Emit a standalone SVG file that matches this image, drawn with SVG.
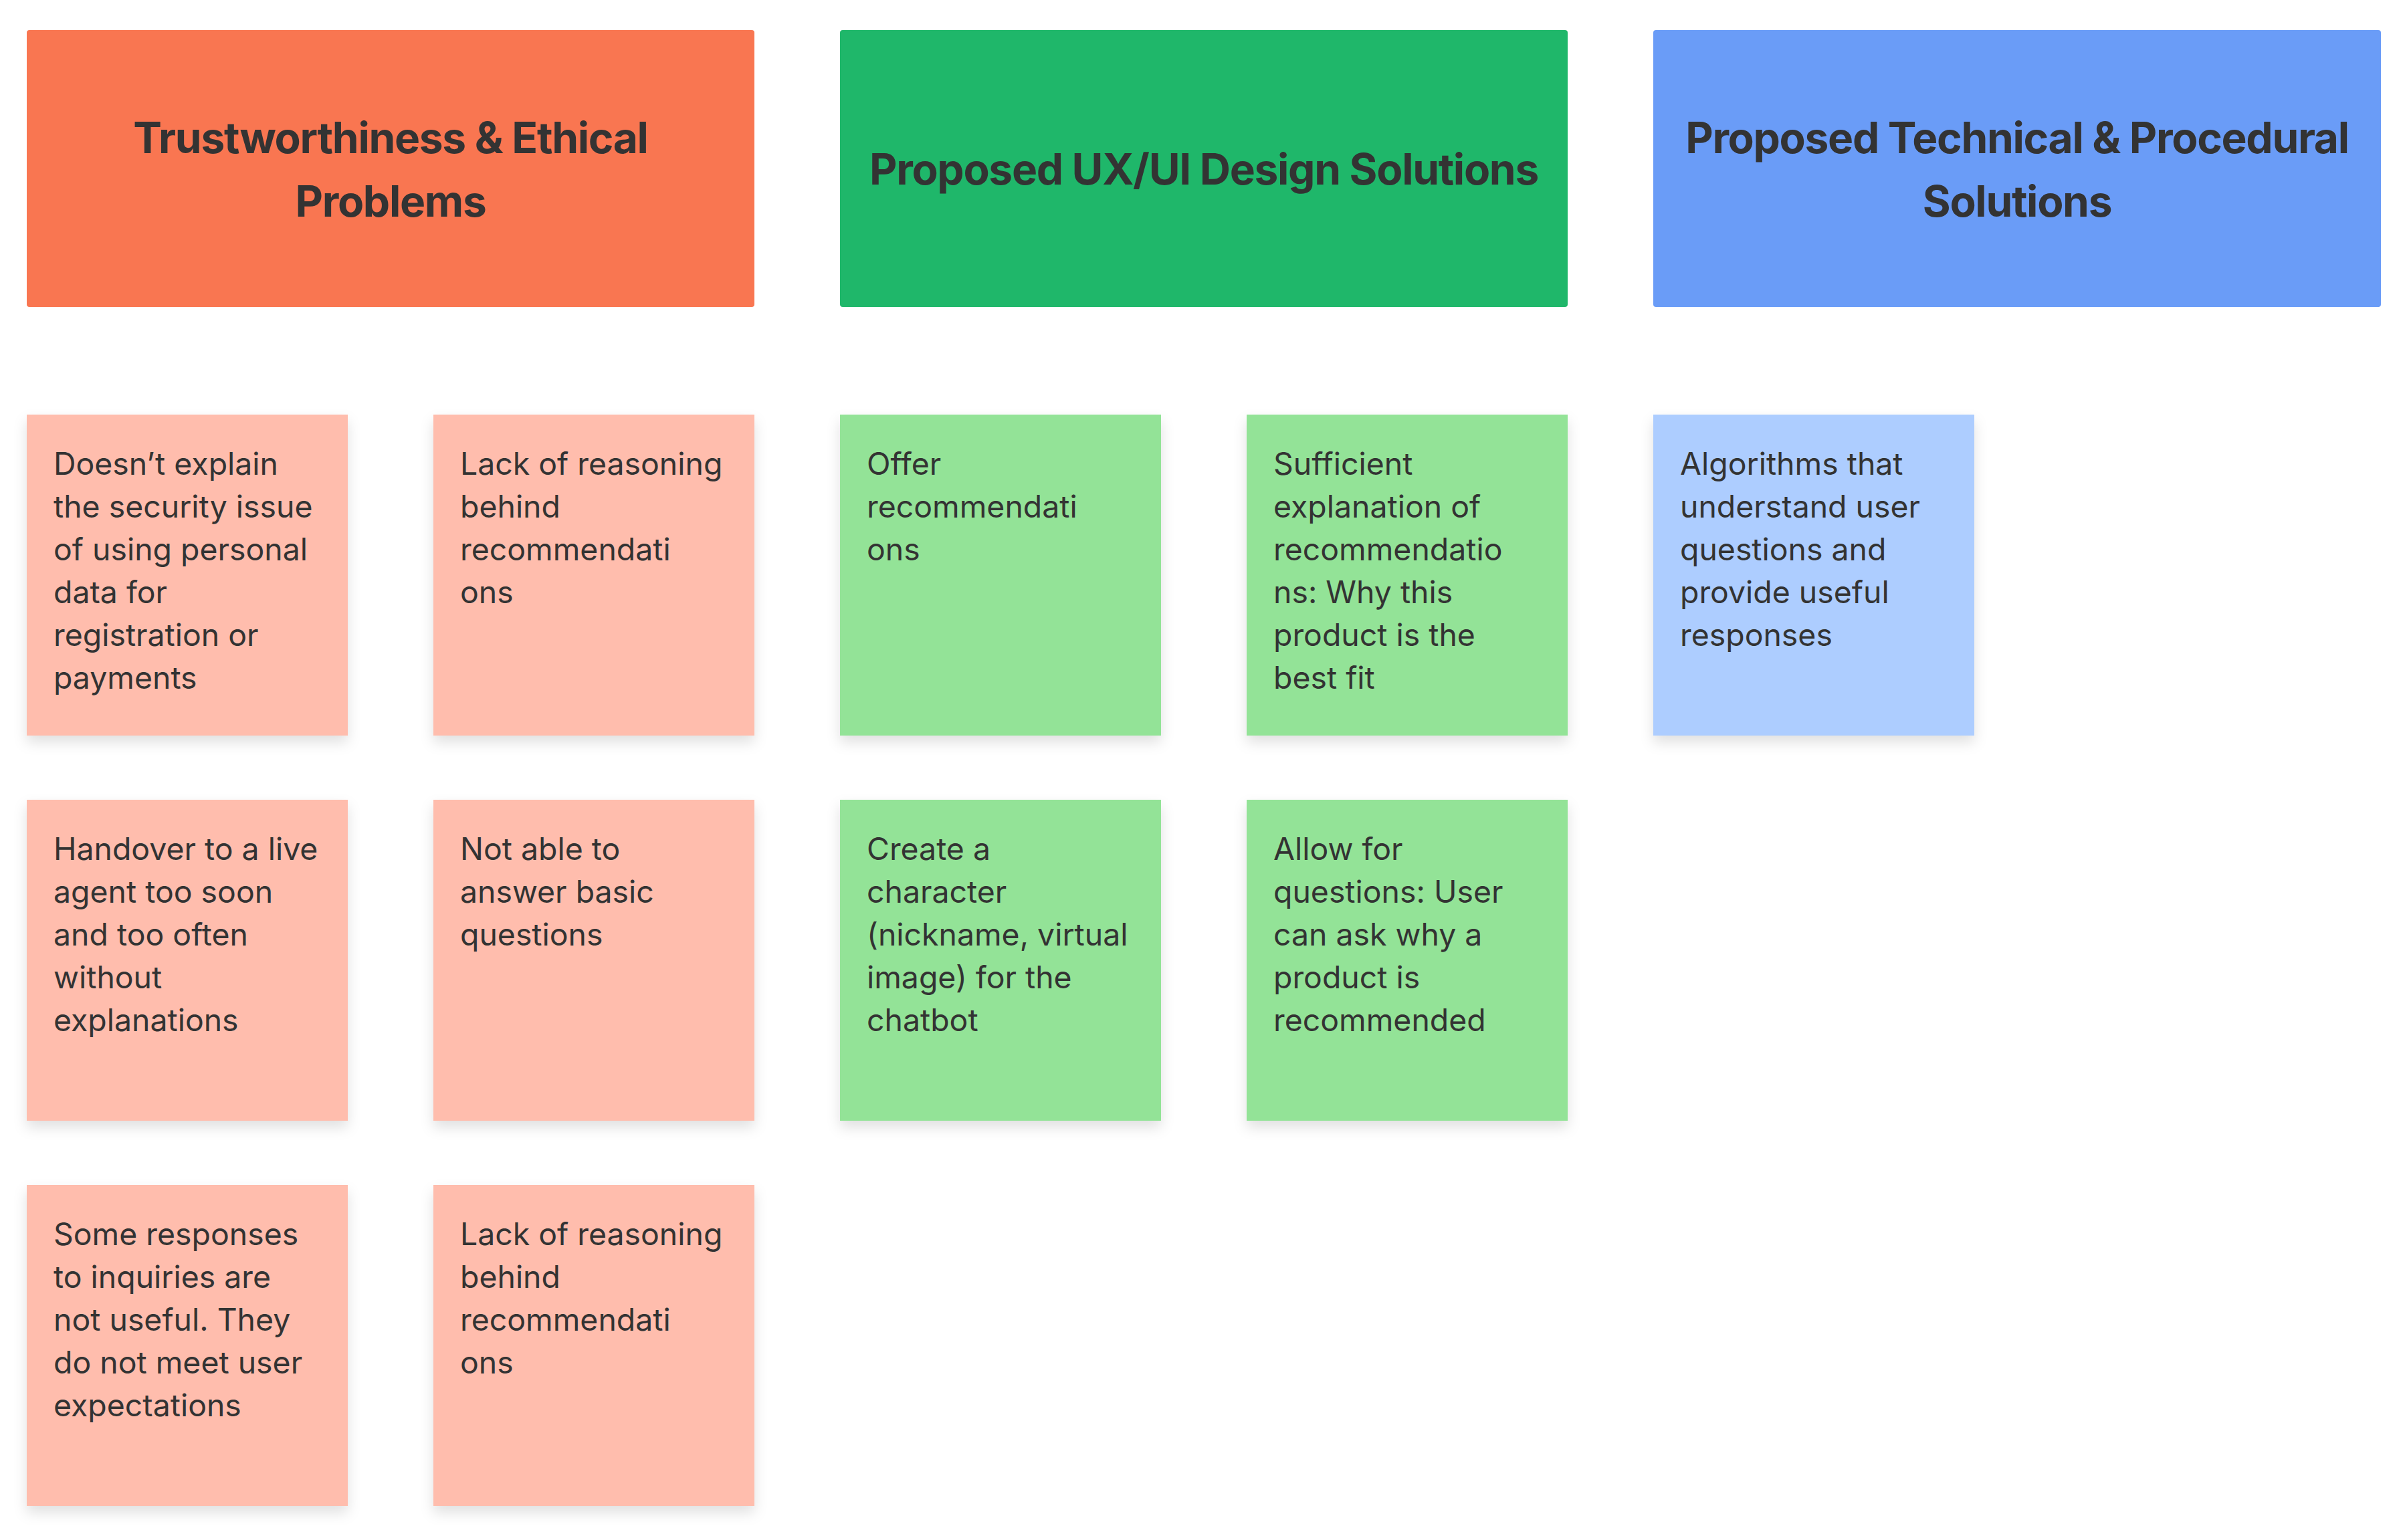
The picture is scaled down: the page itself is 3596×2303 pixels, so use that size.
<svg xmlns="http://www.w3.org/2000/svg" width="3596" height="2303" viewBox="0 0 3596 2303">
<style>
.hd text{font-family:Inter,"Noto Sans","Liberation Sans",sans-serif;font-weight:700;font-size:64px;letter-spacing:-1.3px;fill:#333333;text-anchor:middle}
.st text{font-family:Inter,"Noto Sans","Liberation Sans",sans-serif;font-size:46.4px;fill:#333333}
.pk{fill:#FFBDAD}
.gn{fill:#93E397}
.bl{fill:#ADCDFF}
</style>
<defs>
<filter id="sh" x="-20%" y="-20%" width="140%" height="150%">
<feDropShadow dx="0" dy="10" stdDeviation="10" flood-color="#000000" flood-opacity="0.12"/>
</filter>
</defs>
<rect width="3596" height="2303" fill="#FFFFFF"/>
<g id="connectors"/>
<g id="h1" class="hd"><rect x="40" y="45" width="1088" height="414" rx="4" fill="#F97651"/><text x="584" y="229">Trustworthiness &amp; Ethical</text><text x="584" y="324">Problems</text></g>
<g id="h2" class="hd"><rect x="1256" y="45" width="1088" height="414" rx="4" fill="#1FB76A"/><text x="1800" y="276">Proposed UX/UI Design Solutions</text></g>
<g id="h3" class="hd"><rect x="2472" y="45" width="1088" height="414" rx="4" fill="#6A9CF7"/><text x="3016" y="229">Proposed Technical &amp; Procedural</text><text x="3016" y="324">Solutions</text></g>

<g id="s11" class="st"><rect class="pk" x="40" y="620" width="480" height="480" filter="url(#sh)"/><text x="80" y="710">Doesn’t explain</text><text x="80" y="774">the security issue</text><text x="80" y="838">of using personal</text><text x="80" y="902">data for</text><text x="80" y="966">registration or</text><text x="80" y="1030">payments</text></g>
<g id="s21" class="st"><rect class="pk" x="40" y="1196" width="480" height="480" filter="url(#sh)"/><text x="80" y="1286">Handover to a live</text><text x="80" y="1350">agent too soon</text><text x="80" y="1414">and too often</text><text x="80" y="1478">without</text><text x="80" y="1542">explanations</text></g>
<g id="s31" class="st"><rect class="pk" x="40" y="1772" width="480" height="480" filter="url(#sh)"/><text x="80" y="1862">Some responses</text><text x="80" y="1926">to inquiries are</text><text x="80" y="1990">not useful. They</text><text x="80" y="2054">do not meet user</text><text x="80" y="2118">expectations</text></g>

<g id="s12" class="st"><rect class="pk" x="648" y="620" width="480" height="480" filter="url(#sh)"/><text x="688" y="710">Lack of reasoning</text><text x="688" y="774">behind</text><text x="688" y="838">recommendati</text><text x="688" y="902">ons</text></g>
<g id="s22" class="st"><rect class="pk" x="648" y="1196" width="480" height="480" filter="url(#sh)"/><text x="688" y="1286">Not able to</text><text x="688" y="1350">answer basic</text><text x="688" y="1414">questions</text></g>
<g id="s32" class="st"><rect class="pk" x="648" y="1772" width="480" height="480" filter="url(#sh)"/><text x="688" y="1862">Lack of reasoning</text><text x="688" y="1926">behind</text><text x="688" y="1990">recommendati</text><text x="688" y="2054">ons</text></g>

<g id="s13" class="st"><rect class="gn" x="1256" y="620" width="480" height="480" filter="url(#sh)"/><text x="1296" y="710">Offer</text><text x="1296" y="774">recommendati</text><text x="1296" y="838">ons</text></g>
<g id="s23" class="st"><rect class="gn" x="1256" y="1196" width="480" height="480" filter="url(#sh)"/><text x="1296" y="1286">Create a</text><text x="1296" y="1350">character</text><text x="1296" y="1414">(nickname, virtual</text><text x="1296" y="1478">image) for the</text><text x="1296" y="1542">chatbot</text></g>

<g id="s14" class="st"><rect class="gn" x="1864" y="620" width="480" height="480" filter="url(#sh)"/><text x="1904" y="710">Sufficient</text><text x="1904" y="774">explanation of</text><text x="1904" y="838">recommendatio</text><text x="1904" y="902">ns: Why this</text><text x="1904" y="966">product is the</text><text x="1904" y="1030">best fit</text></g>
<g id="s24" class="st"><rect class="gn" x="1864" y="1196" width="480" height="480" filter="url(#sh)"/><text x="1904" y="1286">Allow for</text><text x="1904" y="1350">questions: User</text><text x="1904" y="1414">can ask why a</text><text x="1904" y="1478">product is</text><text x="1904" y="1542">recommended</text></g>

<g id="s15" class="st"><rect class="bl" x="2472" y="620" width="480" height="480" filter="url(#sh)"/><text x="2512" y="710">Algorithms that</text><text x="2512" y="774">understand user</text><text x="2512" y="838">questions and</text><text x="2512" y="902">provide useful</text><text x="2512" y="966">responses</text></g>
</svg>
